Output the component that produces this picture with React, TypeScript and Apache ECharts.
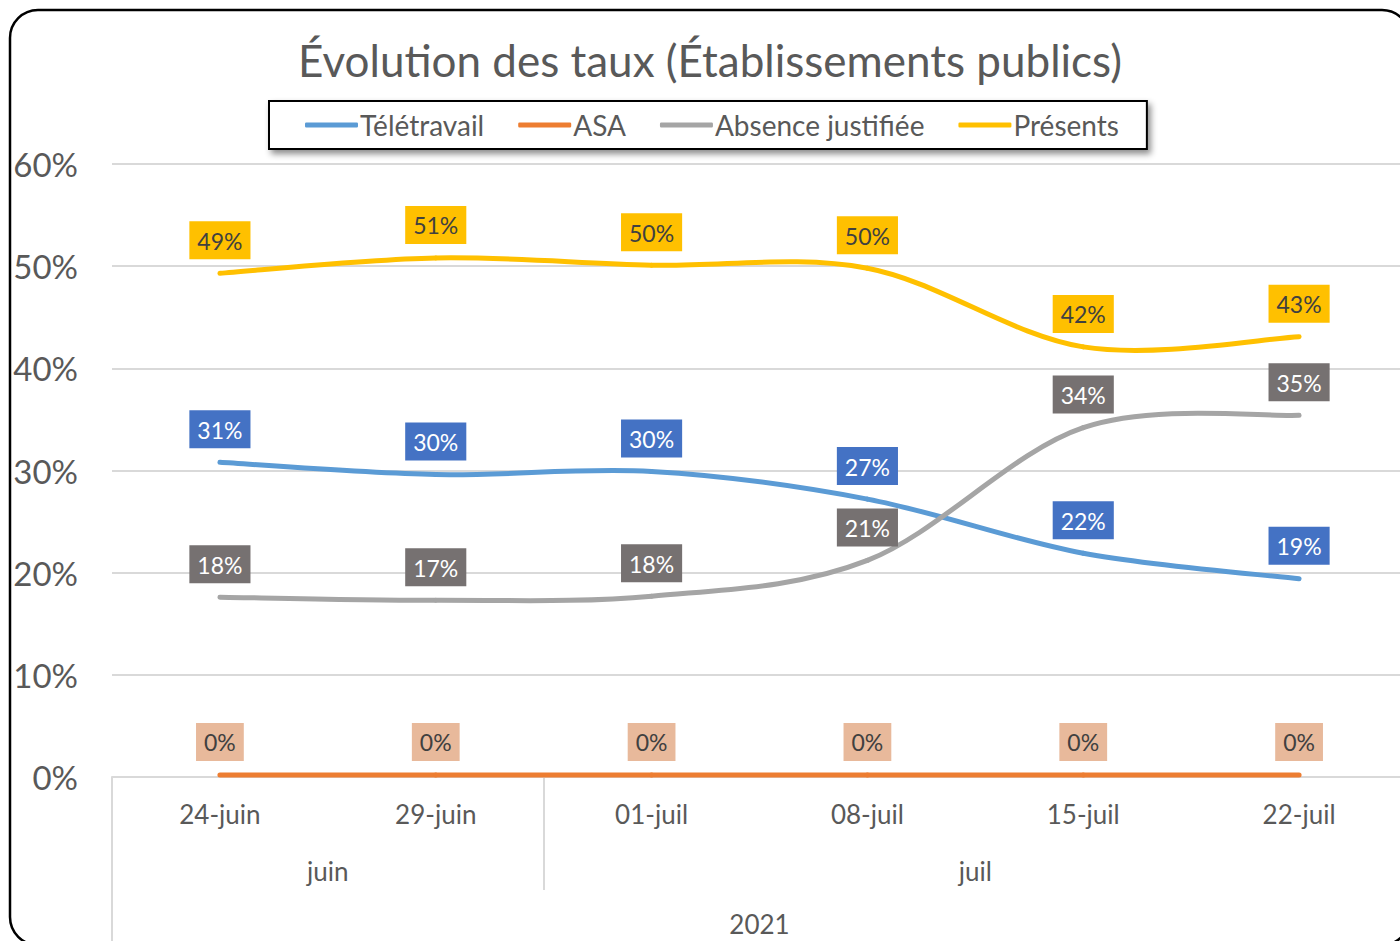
import React, { useEffect, useRef } from "react";
import * as echarts from "echarts";

const categories = ["24-juin", "29-juin", "01-juil", "08-juil", "15-juil", "22-juil"];
const teletravail = [0.308, 0.296, 0.299, 0.272, 0.219, 0.194];
const asa = [0.002, 0.002, 0.002, 0.002, 0.002, 0.002];
const absence = [0.176, 0.173, 0.177, 0.212, 0.342, 0.354];
const presents = [0.493, 0.508, 0.501, 0.498, 0.421, 0.431];
const months = ["juin", "juil"];
const year = "2021";
const yTicks = [0, 0.1, 0.2, 0.3, 0.4, 0.5, 0.6];

const FONT = "Lato, 'Noto Sans', sans-serif";
const GRAY = "#595959";
const GRID = "#d9d9d9";

function labelCfg(bg: string, fg: string) {
  return {
    show: true,
    position: "top" as const,
    distance: 14,
    backgroundColor: bg,
    color: fg,
    fontFamily: FONT,
    fontSize: 23,
    padding: [8, 8, 7, 8],
    formatter: (p: any) => Math.round(p.value * 100) + "%",
  };
}

// Excel-like smoothed line (Catmull-Rom style Bezier segments) drawn through the axis scales
function curveSeries(name: string, values: number[], color: string, z: number) {
  return {
    name,
    type: "custom",
    z,
    silent: true,
    data: values.map((v, i) => [i, v]),
    encode: { x: 0, y: 1 },
    renderItem: (params: any, api: any) => {
      const i = params.dataIndex;
      const n = values.length;
      if (i >= n - 1) return { type: "group", children: [] };
      const pts = values.map((v, k) => api.coord([k, v]));
      const p0 = pts[Math.max(i - 1, 0)];
      const p1 = pts[i];
      const p2 = pts[i + 1];
      const p3 = pts[Math.min(i + 2, n - 1)];
      return {
        type: "bezierCurve",
        shape: {
          x1: p1[0],
          y1: p1[1],
          cpx1: p1[0] + (p2[0] - p0[0]) / 6,
          cpy1: p1[1] + (p2[1] - p0[1]) / 6,
          cpx2: p2[0] - (p3[0] - p1[0]) / 6,
          cpy2: p2[1] - (p3[1] - p1[1]) / 6,
          x2: p2[0],
          y2: p2[1],
        },
        style: { stroke: color, lineWidth: 5, fill: "none", lineCap: "round" },
      };
    },
  };
}

export default function App() {
  const ref = useRef<HTMLDivElement>(null);
  useEffect(() => {
    if (!ref.current) return;
    const chart = echarts.init(ref.current, null, { renderer: "svg" });
    const labelSeries = (name: string, data: number[], color: string, lbg: string, lfg: string) => ({
      name,
      type: "line",
      data,
      color,
      itemStyle: { color },
      symbol: "circle",
      symbolSize: 0,
      showSymbol: true,
      z: 10,
      lineStyle: { width: 0, opacity: 0 },
      label: labelCfg(lbg, lfg),
      xAxisIndex: 0,
      yAxisIndex: 0,
    });
    chart.setOption({
      animation: false,
      backgroundColor: "#fff",
      textStyle: { fontFamily: FONT },
      title: {
        text: "Évolution des taux (Établissements publics)",
        left: "center",
        top: 33,
        textStyle: { fontFamily: FONT, fontSize: 44, fontWeight: "normal", color: GRAY },
      },
      legend: {
        left: 269,
        top: 101,
        padding: [10, 28, 10, 36],
        itemGap: 34,
        itemWidth: 53,
        itemHeight: 5,
        icon: "roundRect",
        borderColor: "#000",
        borderWidth: 2,
        backgroundColor: "#fff",
        shadowBlur: 6,
        shadowColor: "rgba(0,0,0,0.45)",
        shadowOffsetX: 3,
        shadowOffsetY: 4,
        textStyle: { fontFamily: FONT, fontSize: 28, color: GRAY, padding: [0, 0, 0, -3] },
        data: ["Télétravail", "ASA", "Absence justifiée", "Présents"],
      },
      grid: { left: 112, width: 1295, top: 164, height: 613, containLabel: false },
      xAxis: [
        {
          type: "category",
          data: categories,
          boundaryGap: true,
          axisLine: { show: true, lineStyle: { color: GRID, width: 2 } },
          axisTick: { show: false },
          axisLabel: { color: GRAY, fontFamily: FONT, fontSize: 26, margin: 24 },
          z: 1,
        },
        {
          type: "value",
          min: 0,
          max: 6,
          position: "bottom",
          axisLine: { show: false },
          splitLine: { show: false },
          axisTick: { show: true, customValues: [0, 2, 6], length: 113, lineStyle: { color: GRID, width: 2 } },
          axisLabel: {
            show: true,
            customValues: [1, 4],
            formatter: (v: number) => (v < 2 ? months[0] : months[1]),
            color: GRAY,
            fontFamily: FONT,
            fontSize: 26,
            margin: 81,
          },
        },
        {
          type: "value",
          min: 0,
          max: 6,
          position: "bottom",
          axisLine: { show: false },
          splitLine: { show: false },
          axisTick: { show: true, customValues: [0, 6], length: 170, lineStyle: { color: GRID, width: 2 } },
          axisLabel: {
            show: true,
            customValues: [3],
            formatter: () => year,
            color: GRAY,
            fontFamily: FONT,
            fontSize: 26,
            margin: 134,
          },
        },
      ],
      yAxis: {
        type: "value",
        min: 0,
        max: 0.6,
        interval: 0.1,
        axisLine: { show: false },
        axisTick: { show: false },
        splitLine: { lineStyle: { color: GRID, width: 2 } },
        axisLabel: {
          color: GRAY,
          fontFamily: FONT,
          fontSize: 33,
          margin: 34,
          formatter: (v: number) => (yTicks.some((t) => Math.abs(t - v) < 1e-9) ? Math.round(v * 100) + "%" : ""),
        },
      },
      series: [
        labelSeries("Télétravail", teletravail, "#5B9BD5", "#4472C4", "#ffffff"),
        labelSeries("ASA", asa, "#ED7D31", "#E8B99B", "#404040"),
        labelSeries("Absence justifiée", absence, "#A5A5A5", "#767171", "#ffffff"),
        labelSeries("Présents", presents, "#FFC000", "#FFC000", "#404040"),
        curveSeries("Télétravail", teletravail, "#5B9BD5", 2),
        curveSeries("ASA", asa, "#ED7D31", 3),
        curveSeries("Absence justifiée", absence, "#A5A5A5", 4),
        curveSeries("Présents", presents, "#FFC000", 5),
      ],
      graphic: [
        {
          type: "rect",
          shape: { x: 10, y: 10, width: 1400, height: 935, r: 28 },
          style: { fill: "none", stroke: "#000", lineWidth: 2.5 },
          silent: true,
          z: 100,
        },
      ],
    });
    return () => chart.dispose();
  }, []);
  return (
    <div style={{ position: "fixed", left: 0, top: 0, width: 1400, height: 941, overflow: "hidden", background: "#fff" }}>
      <div ref={ref} style={{ width: 1420, height: 941 }} />
    </div>
  );
}
